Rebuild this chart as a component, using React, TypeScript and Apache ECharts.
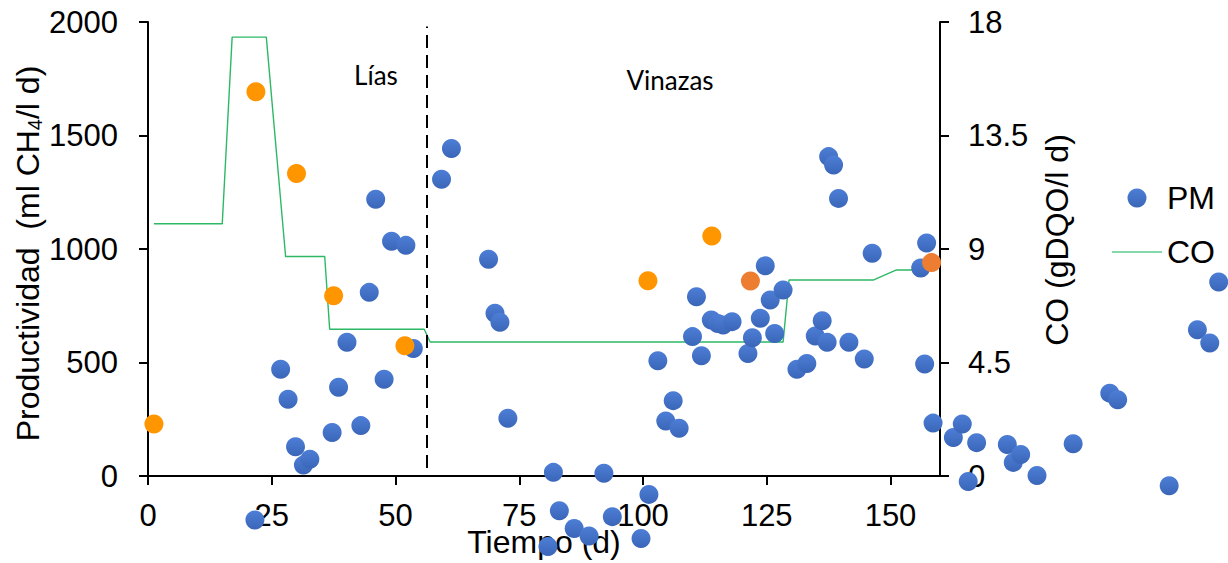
import React, { useEffect, useRef } from 'react';
import * as echarts from 'echarts';

// X axis tick labels (days)
const xTickLabels = [0, 25, 50, 75, 100, 125, 150];

// PM series (productivity, ml CH4/l d)
const pmX = [21.6, 26.8, 28.3, 29.8, 31.4, 32.7, 37.2, 38.5, 40.2, 43.0, 44.7, 46.0, 47.7, 49.2, 52.1, 53.6,
  59.3, 61.3, 68.8, 70.1, 71.1, 72.7, 80.8, 81.9, 83.1, 86.1, 89.1, 92.1, 93.8, 99.6, 101.2,
  103.0, 104.6, 106.1, 107.3, 110.0, 110.8, 111.8, 113.8, 115.1, 116.2, 118.0, 121.2, 122.1, 123.7,
  124.7, 125.7, 126.6, 128.3, 131.1, 133.1, 134.8, 136.2, 137.2, 137.5, 138.5, 139.5, 141.6, 144.7,
  146.3, 156.1, 156.9, 157.3, 158.6, 162.7, 164.5, 165.7, 167.4, 173.6, 174.8, 176.3, 179.6, 186.9,
  194.3, 195.9, 206.3, 212.0, 214.5, 216.3];
const pmY = [-194, 470, 338, 129, 48, 74, 192, 391, 589, 222, 809, 1219, 426, 1034, 1016, 562,
  1307, 1443, 955, 717, 677, 254, -311, 16, -153, -231, -264, 12, -179, -275, -81,
  508, 242, 332, 210, 614, 790, 530, 687, 672, 665, 680, 540, 609, 695,
  926, 775, 628, 819, 470, 496, 617, 684, 589, 1407, 1370, 1223, 589, 515,
  981, 916, 493, 1026, 233, 170, 229, -24, 147, 139, 60, 95, 2, 142,
  365, 336, -43, 644, 586, 855];

// Highlighted points (orange)
const orangeX = [1.2, 21.8, 30.0, 37.5, 51.9, 101.0, 113.9];
const orangeY = [229, 1693, 1333, 794, 574, 860, 1057];
const darkOrangeX = [121.7, 158.3];
const darkOrangeY = [859, 940];

// CO series (organic load, gDQO/l d)
const coX = [1.2, 15.0, 17.0, 23.9, 27.8, 35.7, 36.7, 55.8, 57.0, 128.3, 129.5, 146.5, 151.2, 158.4];
const coY = [10.0, 10.0, 17.4, 17.4, 8.7, 8.7, 5.82, 5.82, 5.31, 5.31, 7.77, 7.77, 8.17, 8.17];

// Phase boundary (Lías | Vinazas)
const boundaryX = 56.3;
const boundaryYRange = [35, 1980];
const phaseLabels = ['Lías', 'Vinazas'];

const zip = (xs: number[], ys: number[]) => xs.map((x, i) => [x, ys[i]]);

const FONT = "'Liberation Sans', Arial, sans-serif";
const plain = (v: number) => String(v);

export default function App() {
  const ref = useRef<HTMLDivElement>(null);
  useEffect(() => {
    if (!ref.current) return;
    const chart = echarts.init(ref.current, null, { renderer: 'svg' });
    const blue = new echarts.graphic.LinearGradient(0, 0, 0, 1, [
      { offset: 0, color: '#4D7ED6' },
      { offset: 1, color: '#3A66B8' },
    ]);
    const axisLine = { show: true, onZero: false, lineStyle: { color: '#000', width: 2 } };
    const axisTick = { show: true, length: 9, inside: false, lineStyle: { color: '#000', width: 2 } };
    chart.setOption({
      animation: false,
      backgroundColor: '#fff',
      textStyle: { fontFamily: FONT },
      grid: { left: 148, right: 288, top: 22, bottom: 87, containLabel: false, outerBoundsMode: 'none' },
      legend: {
        orient: 'vertical',
        left: 1107,
        top: 176,
        itemWidth: 50,
        itemHeight: 19,
        itemGap: 20,
        textStyle: { fontSize: 32, color: '#000', fontFamily: FONT, lineHeight: 34 },
        data: [
          { name: 'PM', icon: 'circle' },
          { name: 'CO', icon: 'path://M0,0H50V1.4H0Z', itemStyle: { color: '#5CCB8C', opacity: 1 } },
        ],
      },
      xAxis: {
        type: 'value',
        min: 0,
        max: 160,
        interval: 25,
        axisLine,
        axisTick: { ...axisTick, customValues: xTickLabels },
        axisLabel: { customValues: xTickLabels, formatter: plain, fontSize: 31, lineHeight: 26, color: '#000', margin: 26, fontFamily: FONT },
        splitLine: { show: false },
        name: 'Tiempo (d)',
        nameLocation: 'middle',
        nameGap: 52,
        nameMoveOverlap: false,
        nameTextStyle: { fontSize: 32, lineHeight: 28, color: '#000', fontFamily: FONT },
      },
      yAxis: [
        {
          type: 'value',
          position: 'left',
          min: 0,
          max: 2000,
          interval: 500,
          axisLine,
          axisTick,
          axisLabel: { formatter: plain, fontSize: 31, color: '#000', margin: 30, fontFamily: FONT },
          splitLine: { show: false },
          name: 'Productividad  (ml CH{sub|4}/l d)',
          nameLocation: 'middle',
          nameRotate: 90,
          nameGap: 103,
          nameMoveOverlap: false,
          nameTextStyle: {
            fontSize: 32,
            lineHeight: 34,
            color: '#000',
            fontFamily: FONT,
            padding: [0, 9, 0, 0],
            rich: { sub: { fontSize: 20, lineHeight: 20, verticalAlign: 'bottom', color: '#000', fontFamily: FONT } },
          },
        },
        {
          type: 'value',
          position: 'right',
          min: 0,
          max: 18,
          interval: 4.5,
          axisLine,
          axisTick,
          axisLabel: { formatter: plain, fontSize: 31, color: '#000', margin: 28, fontFamily: FONT },
          splitLine: { show: false },
          name: 'CO (gDQO/l d)',
          nameLocation: 'middle',
          nameRotate: 90,
          nameGap: 100,
          nameMoveOverlap: false,
          nameTextStyle: { fontSize: 32, lineHeight: 34, color: '#000', fontFamily: FONT, padding: [0, 0, 0, 18] },
        },
      ],
      graphic: [
        {
          type: 'text',
          x: 376,
          y: 75,
          style: { text: phaseLabels[0], fontSize: 26, fontFamily: 'Lato', fill: '#000', align: 'center', verticalAlign: 'middle' },
        },
        {
          type: 'text',
          x: 670,
          y: 80,
          style: { text: phaseLabels[1], fontSize: 26, fontFamily: 'Lato', fill: '#000', align: 'center', verticalAlign: 'middle' },
        },
      ],
      series: [
        {
          name: 'CO',
          type: 'line',
          yAxisIndex: 1,
          data: zip(coX, coY),
          symbol: 'none',
          showSymbol: false,
          lineStyle: { color: '#2DB866', width: 1.4 },
          itemStyle: { color: '#2DB866' },
          z: 2,
        },
        {
          name: 'PM',
          type: 'scatter',
          yAxisIndex: 0,
          data: zip(pmX, pmY),
          symbol: 'circle',
          symbolSize: 19,
          clip: false,
          itemStyle: { color: blue, opacity: 1 },
          z: 3,
          markLine: {
            silent: true,
            symbol: ['none', 'none'],
            label: { show: false },
            lineStyle: { color: '#000', width: 2, type: [13, 7] },
            data: [[{ coord: [boundaryX, boundaryYRange[0]] }, { coord: [boundaryX, boundaryYRange[1]] }]],
          },
        },
        {
          name: 'Lías/Vinazas',
          type: 'scatter',
          yAxisIndex: 0,
          data: zip(orangeX, orangeY),
          symbol: 'circle',
          symbolSize: 19,
          clip: false,
          itemStyle: { color: '#FF9600', opacity: 1 },
          z: 4,
        },
        {
          name: 'Vinazas2',
          type: 'scatter',
          yAxisIndex: 0,
          data: zip(darkOrangeX, darkOrangeY),
          symbol: 'circle',
          symbolSize: 19,
          clip: false,
          itemStyle: { color: '#ED7D31', opacity: 1 },
          z: 4,
        },
      ],
    });
    return () => chart.dispose();
  }, []);
  return (
    <div
      ref={ref}
      style={{ position: 'fixed', left: 0, top: 0, width: 1228, height: 563, background: '#fff' }}
    />
  );
}
